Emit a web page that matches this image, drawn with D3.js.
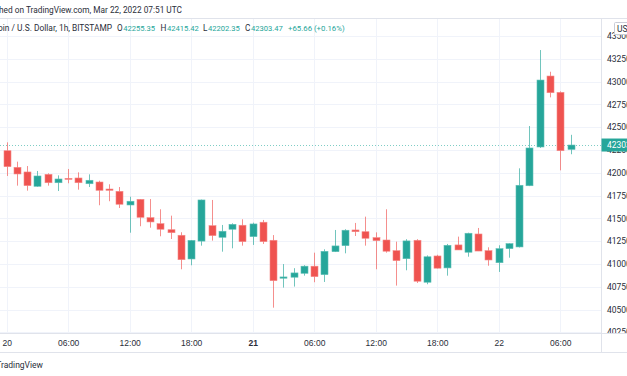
<!DOCTYPE html>
<html>
<head>
<meta charset="utf-8">
<script src="https://cdn.jsdelivr.net/npm/d3@7"></script>
<style>
  html, body { margin: 0; padding: 0; background: #ffffff; }
  svg { display: block; font-family: Roboto, "DejaVu Sans", sans-serif; }
</style>
</head>
<body>
<div id="chart"></div>
<script>
// Hourly BTC/USD candles, Bitstamp, from 2022-03-20 00:00 UTC
const startHour = Date.UTC(2022, 2, 20, 0);
const opens  = [42241, 42059, 42008, 41851, 41982, 41890, 41938, 41942, 41879, 41898,
                41821, 41796, 41646, 41708, 41507, 41441, 41375, 41314, 41054, 41250,
                41419, 41292, 41380, 41424, 41299, 41457, 41259, 40843, 40854, 40897,
                40975, 40882, 41134, 41200, 41372, 41353, 41288, 41262, 41145, 41057,
                41259, 40799, 41087, 40956, 41208, 41128, 41328, 41145, 41013, 41167,
                41186, 41857, 42282, 43060, 42881, 42255.35];
const highs  = [42333, 42121, 42073, 42019, 41993, 41971, 42041, 42004, 41982, 41912,
                41873, 41843, 41737, 41711, 41711, 41599, 41529, 41347, 41262, 41705,
                41701, 41427, 41445, 41489, 41452, 41482, 41316, 40998, 40953, 40986,
                41123, 41160, 41372, 41380, 41449, 41518, 41346, 41599, 41244, 41271,
                41271, 41093, 41100, 41219, 41299, 41342, 41394, 41182, 41204, 41226,
                42048, 42512, 43345, 43107, 42892, 42415.42];
const lows   = [41964, 41858, 41803, 41845, 41858, 41799, 41884, 41814, 41843, 41643,
                41687, 41613, 41342, 41413, 41397, 41303, 41273, 40941, 40985, 41200,
                41255, 41134, 41171, 41200, 41208, 41219, 40520, 40740, 40751, 40871,
                40799, 40802, 41130, 41116, 41306, 41200, 40941, 41123, 40762, 40930,
                40791, 40777, 40950, 40871, 41153, 41079, 41141, 40980, 40912, 41068,
                41180, 41853, 42271, 42826, 42026, 42202.35];
const closes = [42066, 41986, 41858, 41964, 41890, 41931, 41927, 41890, 41917, 41807,
                41807, 41654, 41687, 41511, 41460, 41380, 41342, 41046, 41258, 41701,
                41310, 41358, 41434, 41244, 41438, 41244, 40816, 40857, 40901, 40975,
                40860, 41138, 41197, 41369, 41353, 41281, 41255, 41139, 41036, 41252,
                40810, 41078, 40953, 41204, 41153, 41336, 41141, 41043, 41167, 41222,
                41862, 42271, 43016, 42877, 42241, 42303.47];
const priceTicks = [40250, 40500, 40750, 41000, 41250, 41500, 41750, 42000,
                    42250, 42500, 42750, 43000, 43250, 43500];
const lastPrice = 42303.47;
const headerValues = { O: '42255.35', H: '42415.42', L: '42202.35', C: '42303.47' };
const changeText = '+65.66 (+0.16%)';

const W = 627, H = 376;
const paneTop = 18, paneRight = 601, timeAxisTop = 333, timeAxisBottom = 352;
const up = '#26a69a', down = '#ef5350';
const textColor = '#2a2e39', gridColor = '#f0f3fa', borderColor = '#e0e3eb';

const candles = opens.map((o, i) => ({
  t: new Date(startHour + i * 3600e3),
  o, h: highs[i], l: lows[i], c: closes[i]
}));

const svg = d3.select('#chart').append('svg')
  .attr('width', W).attr('height', H);

const x = d3.scaleUtc()
  .domain([new Date(startHour), new Date(startHour + 55 * 3600e3)])
  .range([6.7, 570.5]);
const y = d3.scaleLinear()
  .domain([42000, 43000])
  .range([172.7, 81.5]);

// clip for the pane
svg.append('clipPath').attr('id', 'pane')
  .append('rect').attr('x', 0).attr('y', paneTop)
  .attr('width', paneRight).attr('height', timeAxisTop - paneTop);

const pane = svg.append('g').attr('clip-path', 'url(#pane)');

// grid
const timeTicks = x.ticks(d3.utcHour.every(6));
pane.selectAll('.vgrid').data(timeTicks).join('line')
  .attr('x1', d => Math.round(x(d)) + 0.5).attr('x2', d => Math.round(x(d)) + 0.5)
  .attr('y1', paneTop).attr('y2', timeAxisTop)
  .attr('stroke', gridColor);
pane.selectAll('.hgrid').data(priceTicks).join('line')
  .attr('x1', 0).attr('x2', paneRight)
  .attr('y1', d => Math.round(y(d)) + 0.5).attr('y2', d => Math.round(y(d)) + 0.5)
  .attr('stroke', gridColor);

// last price dotted line
pane.append('line')
  .attr('x1', 0).attr('x2', paneRight)
  .attr('y1', Math.round(y(lastPrice)) + 0.5).attr('y2', Math.round(y(lastPrice)) + 0.5)
  .attr('stroke', '#7fcdc5').attr('stroke-width', 1)
  .attr('stroke-dasharray', '1,2');

// candles
const bodyW = 7;
const g = pane.selectAll('.candle').data(candles).join('g');
g.append('line')
  .attr('x1', d => Math.round(x(d.t)) + 0.5).attr('x2', d => Math.round(x(d.t)) + 0.5)
  .attr('y1', d => y(d.h)).attr('y2', d => y(d.l))
  .attr('stroke', d => d.c >= d.o ? up : down)
  .attr('stroke-opacity', 0.65);
g.append('rect')
  .attr('x', d => Math.round(x(d.t)) + 0.5 - bodyW / 2)
  .attr('width', bodyW)
  .attr('y', d => y(Math.max(d.o, d.c)))
  .attr('height', d => Math.max(1, y(Math.min(d.o, d.c)) - y(Math.max(d.o, d.c))))
  .attr('fill', d => d.c >= d.o ? up : down)
  .attr('stroke', d => d.c >= d.o ? '#5fc0b6' : '#f58a88')
  .attr('stroke-width', 0.6);

// borders
svg.append('line').attr('x1', 0).attr('x2', W).attr('y1', paneTop + 0.5).attr('y2', paneTop + 0.5)
  .attr('stroke', borderColor);
svg.append('line').attr('x1', paneRight + 0.5).attr('x2', paneRight + 0.5)
  .attr('y1', paneTop).attr('y2', timeAxisBottom).attr('stroke', borderColor);
svg.append('line').attr('x1', 0).attr('x2', W).attr('y1', timeAxisTop + 0.5).attr('y2', timeAxisTop + 0.5)
  .attr('stroke', borderColor);
svg.append('line').attr('x1', 0).attr('x2', W).attr('y1', timeAxisBottom + 0.5).attr('y2', timeAxisBottom + 0.5)
  .attr('stroke', borderColor);

// price axis
const priceAxis = svg.append('g').attr('transform', `translate(${paneRight},0)`)
  .call(d3.axisRight(y).tickValues(priceTicks).tickSize(0).tickPadding(6).tickFormat(d3.format('d')));
priceAxis.select('.domain').remove();
priceAxis.selectAll('text')
  .attr('fill', textColor).attr('font-size', '8.5px').attr('font-family', 'Roboto, sans-serif');
// the lowest label is cut by the time axis line
priceAxis.selectAll('.tick').filter(d => y(d) > timeAxisTop - 2).remove();
svg.append('clipPath').attr('id', 'axisClip')
  .append('rect').attr('x', paneRight).attr('y', 0).attr('width', W - paneRight).attr('height', timeAxisTop);
svg.append('g').attr('clip-path', 'url(#axisClip)')
  .append('text').attr('x', paneRight + 6).attr('y', y(40250)).attr('dy', '0.32em')
  .attr('fill', textColor).attr('font-size', '8.5px').text(d3.format('d')(40250));

// last price label
const lpY = y(lastPrice);
svg.append('rect').attr('x', paneRight + 0.5).attr('y', lpY - 6.5)
  .attr('width', W - paneRight).attr('height', 13).attr('fill', up);
svg.append('text').attr('x', paneRight + 6).attr('y', lpY).attr('dy', '0.34em')
  .attr('fill', '#ffffff').attr('font-size', '8.5px').text(d3.format('.2f')(lastPrice));

// currency box
svg.append('rect').attr('x', 614.5).attr('y', 22.5).attr('width', 22).attr('height', 12)
  .attr('fill', '#ffffff').attr('stroke', '#c9ccd6').attr('rx', 1);
svg.append('text').attr('x', 617).attr('y', 31.5).attr('font-size', '8.5px')
  .attr('fill', textColor).text('USD');

// time axis
const timeAxis = svg.append('g').attr('transform', `translate(0,${timeAxisTop})`)
  .call(d3.axisBottom(x).tickValues(timeTicks).tickSize(0).tickPadding(7)
    .tickFormat(d => d.getUTCHours() === 0 ? String(d.getUTCDate()) : d3.utcFormat('%H:%M')(d)));
timeAxis.select('.domain').remove();
timeAxis.selectAll('text')
  .attr('fill', textColor).attr('font-size', '8.5px')
  .attr('font-weight', d => d.getUTCHours() === 0 && d.getUTCDate() === 21 ? 'bold' : 'normal');

// header
svg.append('text').attr('x', 182).attr('y', 13).attr('text-anchor', 'end')
  .attr('font-size', '8.3px').attr('fill', textColor)
  .text('Published on TradingView.com, Mar 22, 2022 07:51 UTC');
svg.append('text').attr('x', 112).attr('y', 31).attr('text-anchor', 'end')
  .attr('font-size', '8.4px').attr('fill', textColor)
  .text('Bitcoin / U.S. Dollar, 1h, BITSTAMP');
const hdr = [['O', 117], ['H', 160.5], ['L', 203], ['C', 245]];
hdr.forEach(([k, px]) => {
  const t = svg.append('text').attr('x', px).attr('y', 31).attr('font-size', '8.2px');
  t.append('tspan').attr('fill', textColor).text(k);
  t.append('tspan').attr('fill', up).attr('font-size', '7.6px').attr('dx', 0.6).text(headerValues[k]);
});
svg.append('text').attr('x', 288).attr('y', 31).attr('font-size', '7.8px')
  .attr('fill', up).text(changeText);

// footer logo text
svg.append('text').attr('x', 43).attr('y', 368).attr('text-anchor', 'end')
  .attr('font-size', '8.5px').attr('fill', textColor).text('TradingView');
</script>
</body>
</html>
